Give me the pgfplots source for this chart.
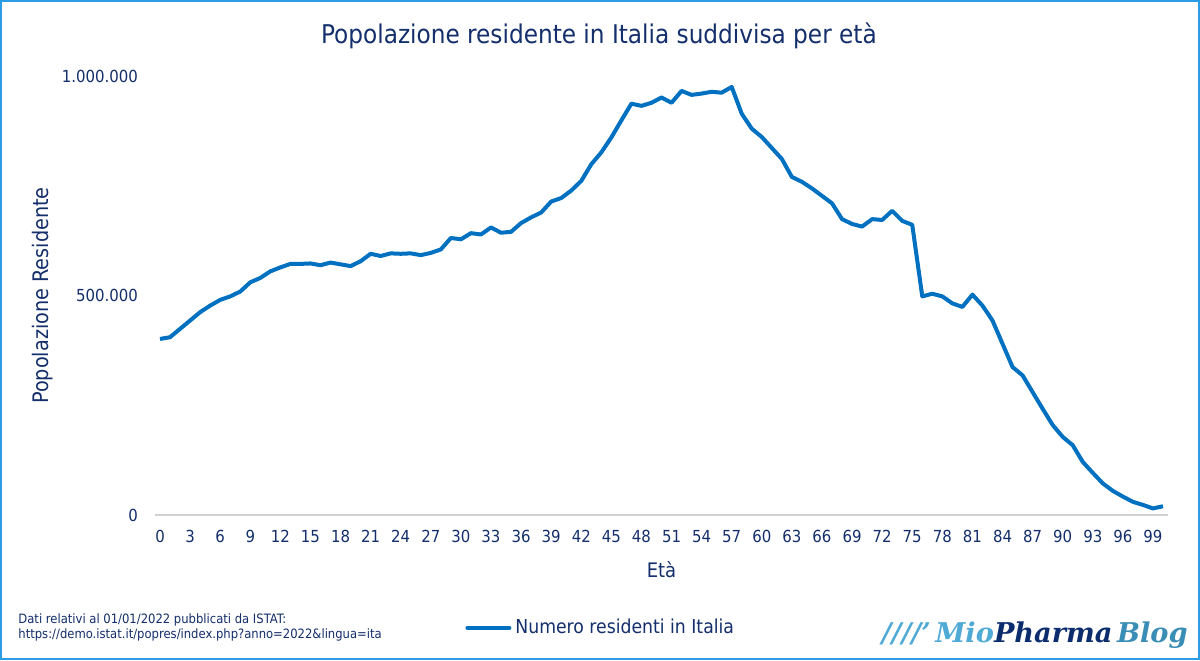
\documentclass[border=0pt]{standalone}
\usepackage{pgfplots}
\pgfplotsset{compat=1.18}
\usepackage{fontspec}
\setmainfont{DejaVu Sans Condensed}
\newfontfamily\logofont{DejaVu Serif}
\definecolor{txt}{HTML}{142F6B}
\definecolor{ln}{HTML}{0070C0}
\definecolor{brd}{HTML}{2E9BE6}
\definecolor{logolight}{HTML}{4FAAD6}
\definecolor{logodark}{HTML}{0B2D6E}
\definecolor{logoteal}{HTML}{3A8DB5}

\pgfplotstableread{
age val
0 401
1 405
2 424
3 443
4 462
5 477
6 490
7 498
8 509
9 530
10 540
11 555
12 564
13 572
14 572
15 573
16 569
17 575
18 571
19 567
20 578
21 595
22 590
23 596
24 595
25 596
26 592
27 597
28 605
29 631
30 628
31 642
32 639
33 655
34 643
35 645
36 665
37 678
38 689
39 714
40 722
41 739
42 761
43 799
44 826
45 860
46 899
47 937
48 932
49 939
50 951
51 939
52 966
53 957
54 960
55 964
56 962
57 975
58 914
59 880
60 861
61 836
62 811
63 770
64 759
65 744
66 727
67 710
68 674
69 663
70 657
71 674
72 672
73 693
74 670
75 661
76 498
77 504
78 498
79 482
80 474
81 502
82 477
83 443
84 390
85 337
86 318
87 280
88 242
89 205
90 178
91 159
92 121
93 96
94 72
95 55
96 42
97 30
98 23
99 15
100 20
}\popdata

\begin{document}
\begin{tikzpicture}
\useasboundingbox (0,0) rectangle (600pt,330pt);
\fill[white] (0,0) rectangle (600pt,330pt);
\draw[brd, line width=1pt] (0.5pt,0.5pt) rectangle (599.5pt,329.5pt);
\begin{axis}[
  at={(77.5pt,72.5pt)}, anchor=south west,
  scale only axis, width=506.5pt, height=219.5pt,
  xmin=-0.5, xmax=100.5, ymin=0, ymax=1000,
  separate axis lines,
  axis x line*=bottom, axis y line*=left,
  x axis line style={draw=black!18, line width=0.7pt},
  y axis line style={draw=none},
  major tick length=0pt,
  xtick={0,3,...,99},
  ytick={0,500,1000},
  yticklabels={0,500.000,1.000.000},
  /pgf/number format/assume math mode=true,
  tick label style={font=\fontsize{8.3pt}{10pt}\selectfont, text=txt},
  xticklabel style={yshift=-4.2pt},
  yticklabel style={xshift=-5pt},
  xlabel={Età},
  ylabel={Popolazione Residente},
  xlabel style={font=\fontsize{10pt}{12pt}\selectfont, text=txt, at={(axis description cs:0.5,-0.125)}, anchor=center},
  ylabel style={font=\fontsize{10.7pt}{12pt}\selectfont, text=txt, at={(axis description cs:-0.1106,0.5)}, anchor=center},
  legend style={at={(axis description cs:0.441,-0.257)}, anchor=center,
    draw=none, fill=none, font=\fontsize{9.6pt}{11pt}\selectfont, text=txt,
    inner sep=0pt, /tikz/every even column/.append style={column sep=0pt}},
  legend image code/.code={\draw[#1, line cap=round] (0pt,0pt) -- (21pt,0pt);},
  clip=false,
]
\addplot[ln, line width=2pt, line join=round] table[x=age, y=val] {\popdata};
\addlegendentry{Numero residenti in Italia}
\end{axis}
\node[anchor=base, text=txt, font=\fontsize{12.9pt}{15pt}\selectfont] at (299.5pt,308.3pt) {Popolazione residente in Italia suddivisa per età};
\node[anchor=base west, text=txt, font=\fontsize{6.45pt}{7pt}\selectfont, inner sep=0pt] at (9pt,18.5pt) {Dati relativi al 01/01/2022 pubblicati da ISTAT:};
\node[anchor=base west, text=txt, font=\fontsize{6.45pt}{7pt}\selectfont, inner sep=0pt] at (9pt,10.8pt) {https://demo.istat.it/popres/index.php?anno=2022\&lingua=ita};
\node[anchor=base east, inner sep=0pt, font=\logofont\bfseries\itshape\fontsize{13.6pt}{15pt}\selectfont] at (594pt,9pt) {\textcolor{logolight}{////’\,Mio}\textcolor{logodark}{Pharma}\,\textcolor{logoteal}{Blog}};
\end{tikzpicture}
\end{document}
